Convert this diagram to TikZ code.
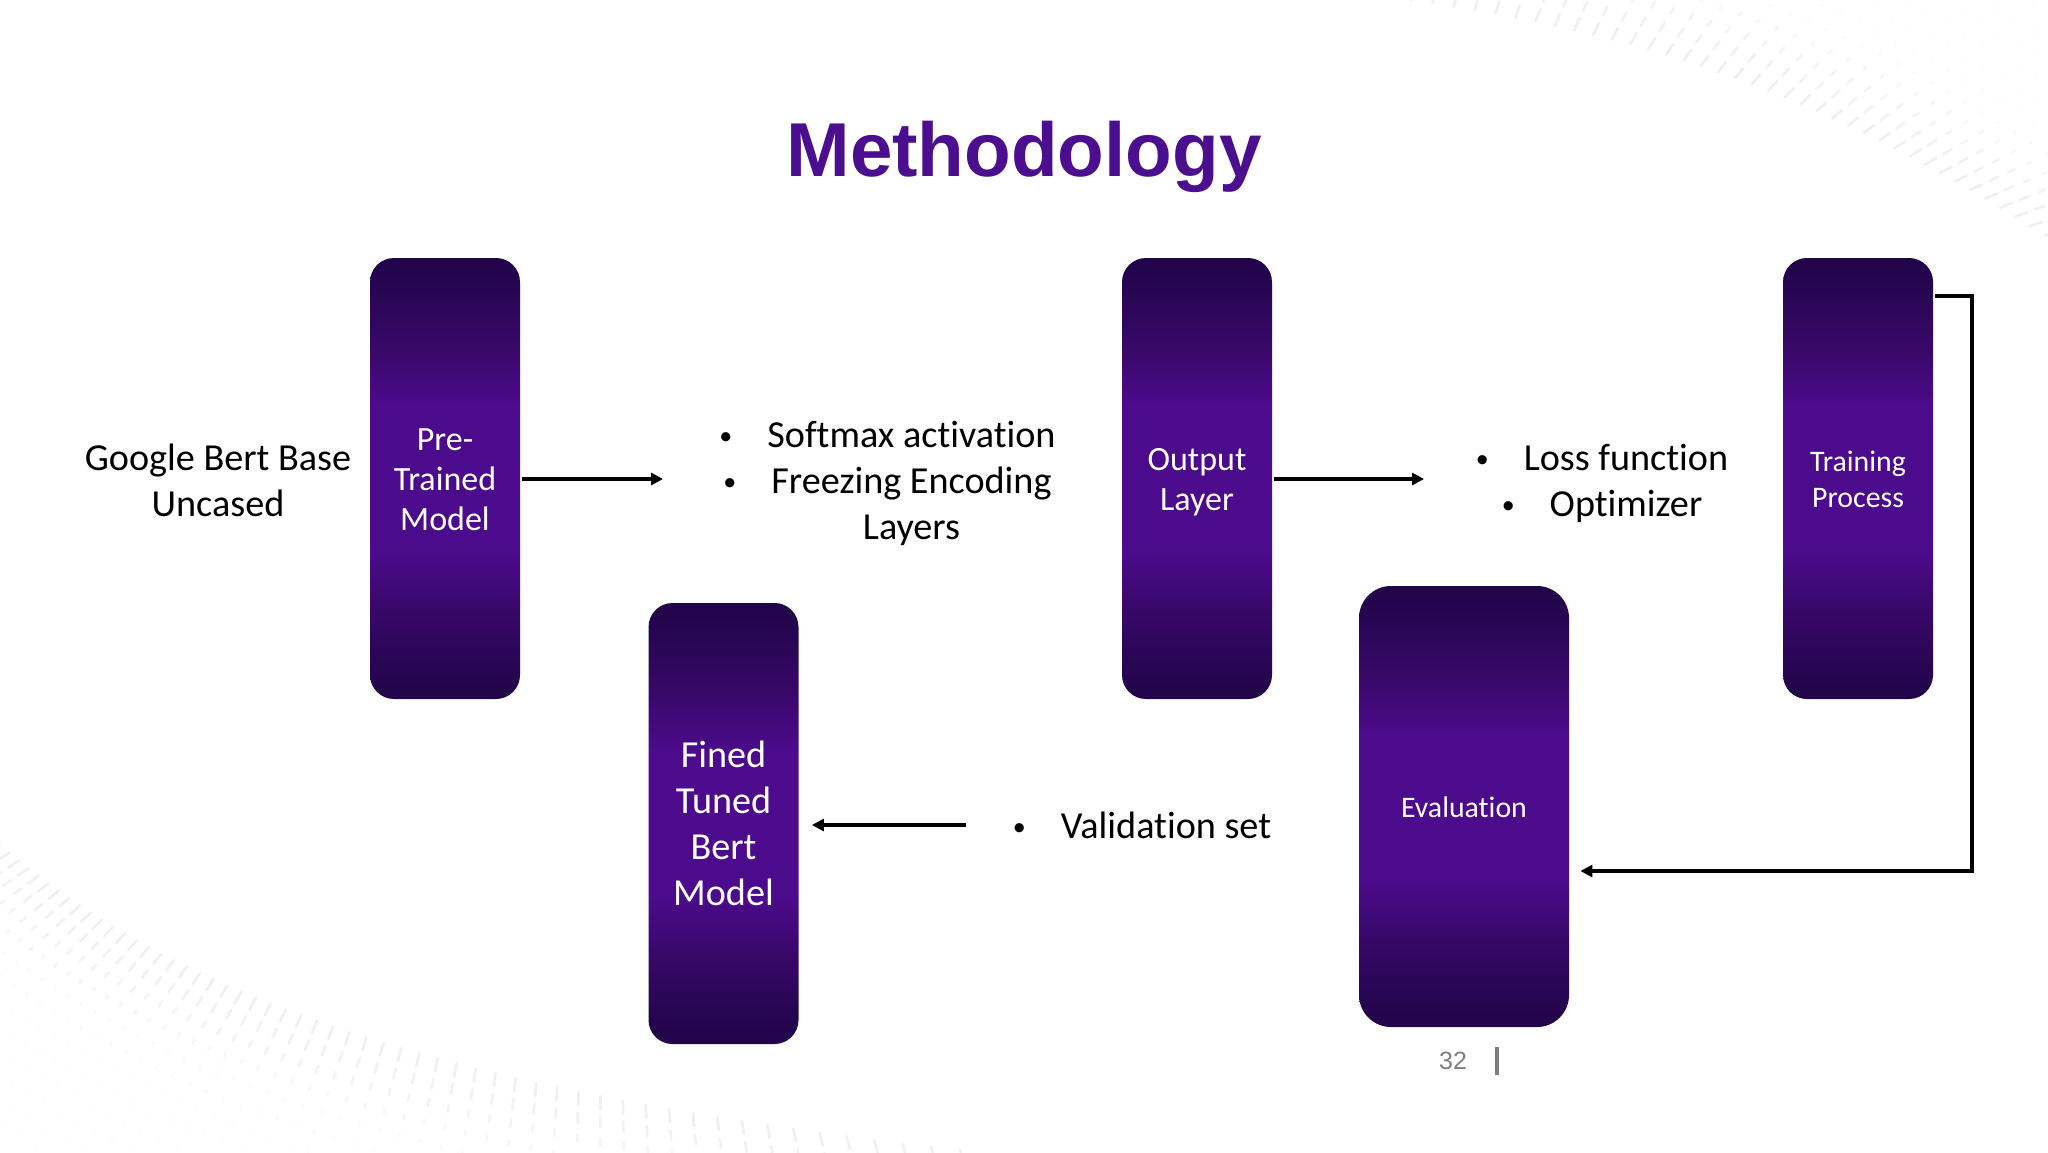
\documentclass[tikz,border=0pt]{standalone}
\usepackage{fontspec}
\usetikzlibrary{arrows.meta}
\setmainfont[Ligatures=NoCommon]{Carlito}
\newfontfamily\arialfont{Liberation Sans}
\definecolor{boxdark}{HTML}{21044A}
\definecolor{boxlow}{HTML}{370868}
\definecolor{boxmid}{HTML}{4C0B8C}
\definecolor{titlecol}{HTML}{4A0E8F}
\definecolor{pagegray}{HTML}{7F7F7F}
\pgfdeclareverticalshading{boxshade}{100bp}{
  color(0bp)=(boxdark); color(26bp)=(boxdark); color(35bp)=(boxlow); color(42bp)=(boxmid);
  color(58bp)=(boxmid); color(65bp)=(boxlow); color(74bp)=(boxdark); color(100bp)=(boxdark)}
% hanging list bullet
\newcommand{\blt}{\llap{\raisebox{1.3pt}{\fontsize{13}{13}\selectfont\textbullet}\hspace{17.5pt}}}
% taller strut on the first line, pushes the text block down a little
\newcommand{\tstrut}{\rule{0pt}{\dimexpr.7\baselineskip+4pt\relax}}
% faint dotted band: bezier edge, strokes going out from it and fading
\newcommand{\dotband}[7]{%
  \foreach \i in {0,...,#7}{
    \pgfmathsetmacro\tt{\i/#7}
    \pgfmathsetmacro\ss{1-\tt}
    \pgfmathsetmacro\bx{\ss*\ss*\ss*#1+3*\ss*\ss*\tt*#2+3*\ss*\tt*\tt*#3+\tt*\tt*\tt*#4}
    \pgfmathsetmacro\by{\ss*\ss*\ss*\ya+3*\ss*\ss*\tt*\yb+3*\ss*\tt*\tt*\yc+\tt*\tt*\tt*\yd}
    \pgfmathsetmacro\aa{#5+(#6-#5)*\tt}
    \foreach \k in {0,...,11}{
      \pgfmathsetmacro\gx{\bx+\k*21*cos(\aa)}
      \pgfmathsetmacro\gy{\by+\k*21*sin(\aa)}
      \pgfmathsetmacro\ln{max(1,13-3*\k)}
      \pgfmathsetmacro\pc{max(1.5,6-0.8*\k)}
      \draw[line width=1.3pt,line cap=round,color=black!\pc] (\gx,\gy) -- ++(\aa:\ln);
    }
  }}
\begin{document}
\begin{tikzpicture}[x=0.5pt,y=-0.5pt,
  box/.style={rounded corners=12pt,shading=boxshade,inner sep=0pt,align=center,
    text=white,minimum width=75pt,minimum height=220.5pt},
  lbl/.style={inner sep=0pt,align=center,text=black,font=\fontsize{19.1}{23}\selectfont},
  arr/.style={-{Triangle[length=6pt,width=6pt]},line width=2pt,black},
  thinarr/.style={arr,line width=1.6pt}]
\useasboundingbox (0,0) rectangle (2048,1152);
\fill[white] (0,0) rectangle (2048,1152);
% background dots
\begin{scope}
\clip (0,0) rectangle (2048,1152);
\def\ya{-10}\def\yb{20}\def\yc{110}\def\yd{245}
\dotband{1320}{1650}{1850}{2060}{-85}{-15}{42}
\def\ya{845}\def\yb{990}\def\yc{1090}\def\yd{1150}
\dotband{0}{170}{420}{960}{150}{70}{55}
\end{scope}
% title
\node[font=\arialfont\bfseries\fontsize{38.2}{44}\selectfont,text=titlecol,inner sep=0pt] (title) at (1024,156.5) {Methodology};
% boxes
\node[box,font=\fontsize{17}{20.2}\selectfont] (pre) at (445,478.5) {\tstrut Pre-\\Trained\\Model\strut};
\node[box,font=\fontsize{17}{20.2}\selectfont] (out) at (1197,478.5) {\tstrut Output\\Layer\strut};
\node[box,font=\fontsize{14.9}{17.8}\selectfont] (train) at (1858,478.5) {\tstrut Training\\Process\strut};
\node[box,font=\fontsize{19.1}{23}\selectfont] (fined) at (723.5,823.5) {\tstrut Fined\\Tuned\\Bert\\Model\strut};
\node[box,rounded corners=16pt,minimum width=105pt,font=\fontsize{14.9}{18}\selectfont] (eval) at (1464,806.5) {\tstrut Evaluation\strut};
% texts
\node[lbl] (google) at (218,480) {\tstrut Google Bert Base\\Uncased\strut};
\node[lbl] (soft) at (911.5,480) {\tstrut\blt Softmax activation\\\blt Freezing Encoding\\Layers\strut};
\node[lbl] (loss) at (1626,480) {\tstrut\blt Loss function\\\blt Optimizer\strut};
\node[lbl] (valid) at (1166,825) {\tstrut\blt Validation set\strut};
% page number
\node[font=\arialfont\fontsize{12.5}{15}\selectfont,text=pagegray,inner sep=0pt] (page) at (1453,1061) {32};
\draw[line width=2pt,pagegray] (1497,1047) -- (1497,1075);
% connectors
\coordinate (softin) at (663,479);
\coordinate (lossin) at (1424,479);
\coordinate (validout) at (966,825);
\coordinate (loopa) at (1972,296);
\coordinate (loopb) at (1972,871);
\draw[arr,shorten <=1pt] (pre.east |- softin) -- (softin);
\draw[arr,shorten <=1pt] (out.east |- lossin) -- (lossin);
\draw[arr,shorten >=6.5pt] (validout) -- (fined.east |- validout);
\draw[thinarr,shorten >=5.5pt,shorten <=1pt] (train.east |- loopa) -- (loopa) -- (loopb) -- (eval.east |- loopb);
\end{tikzpicture}
\end{document}
